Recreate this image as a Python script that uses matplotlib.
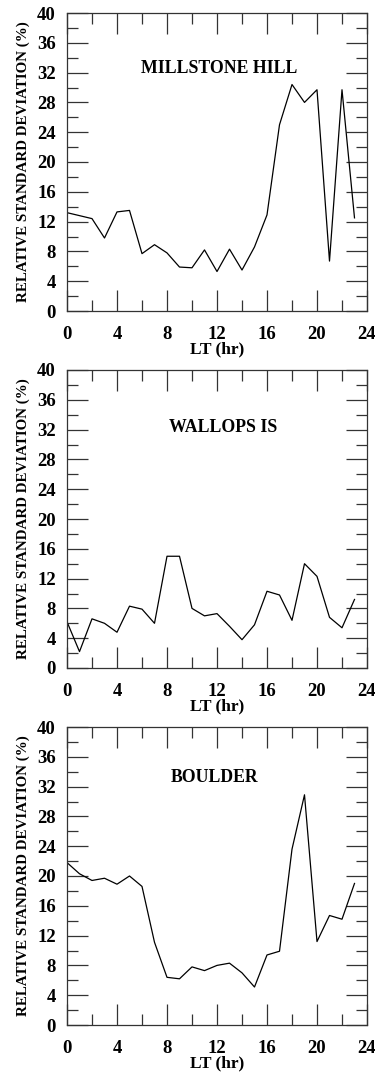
import matplotlib
matplotlib.use("Agg")
import matplotlib.pyplot as plt
from matplotlib.ticker import MultipleLocator

plt.rcParams['font.family'] = ['Liberation Serif', 'DejaVu Serif']
plt.rcParams['font.weight'] = 'bold'

hours = list(range(24))

millstone_hill = [13.2, 12.8, 12.4, 9.8, 13.3, 13.5, 7.7, 8.9, 7.8, 5.9, 5.8, 8.2,
                  5.3, 8.3, 5.5, 8.6, 12.9, 25.0, 30.4, 28.0, 29.7, 6.7, 29.7, 12.5]
wallops_is = [6.2, 2.2, 6.6, 6.0, 4.8, 8.3, 7.9, 6.0, 15.0, 15.0, 8.0, 7.0,
              7.3, 5.6, 3.8, 5.8, 10.3, 9.8, 6.4, 14.0, 12.3, 6.8, 5.4, 9.2]
boulder = [21.8, 20.3, 19.4, 19.7, 18.9, 20.0, 18.6, 11.1, 6.4, 6.2, 7.8, 7.3,
           8.0, 8.3, 7.0, 5.1, 9.4, 9.9, 23.6, 30.9, 11.2, 14.7, 14.2, 19.0]

stations = ["MILLSTONE HILL", "WALLOPS IS", "BOULDER"]
series = [millstone_hill, wallops_is, boulder]
label_pos = [(12.2, 32.6), (12.5, 32.3), (11.8, 33.2)]

W, H = 375, 1075
fig = plt.figure(figsize=(W / 100, H / 100), dpi=100)

tops = [13, 370, 727]
left, right = 67, 367
height = 298

for top, name, vals, (lx, ly) in zip(tops, stations, series, label_pos):
    ax = fig.add_axes([left / W, 1 - (top + height) / H, (right - left) / W, height / H])
    ax.plot(hours, vals, color='black', lw=0.9)
    ax.set_xlim(0, 24)
    ax.set_ylim(0, 40)
    ax.xaxis.set_major_locator(MultipleLocator(4))
    ax.xaxis.set_minor_locator(MultipleLocator(2))
    ax.yaxis.set_major_locator(MultipleLocator(4))
    ax.yaxis.set_minor_locator(MultipleLocator(2))
    ax.tick_params(which='both', direction='in', top=True, right=True,
                   width=0.9, color='#333333', labelsize=13.5)
    ax.tick_params(axis='x', which='both', pad=11)
    ax.tick_params(axis='y', which='both', pad=8)
    ax.tick_params(which='major', length=15)
    ax.tick_params(which='minor', length=8)
    for lab in ax.get_xticklabels() + ax.get_yticklabels():
        lab.set_fontweight('bold')
    for sp in ax.spines.values():
        sp.set_linewidth(0.9)
        sp.set_color('#333333')
    ax.set_xlabel("LT (hr)", fontsize=12.5, fontweight='bold', labelpad=-1)
    ax.set_ylabel("RELATIVE STANDARD DEVIATION (%)", fontsize=10.8, fontweight='bold', labelpad=5)
    ax.text(lx, ly, name, ha='center', va='center', fontsize=12.8, fontweight='bold')

fig.savefig("out.png", dpi=100)
